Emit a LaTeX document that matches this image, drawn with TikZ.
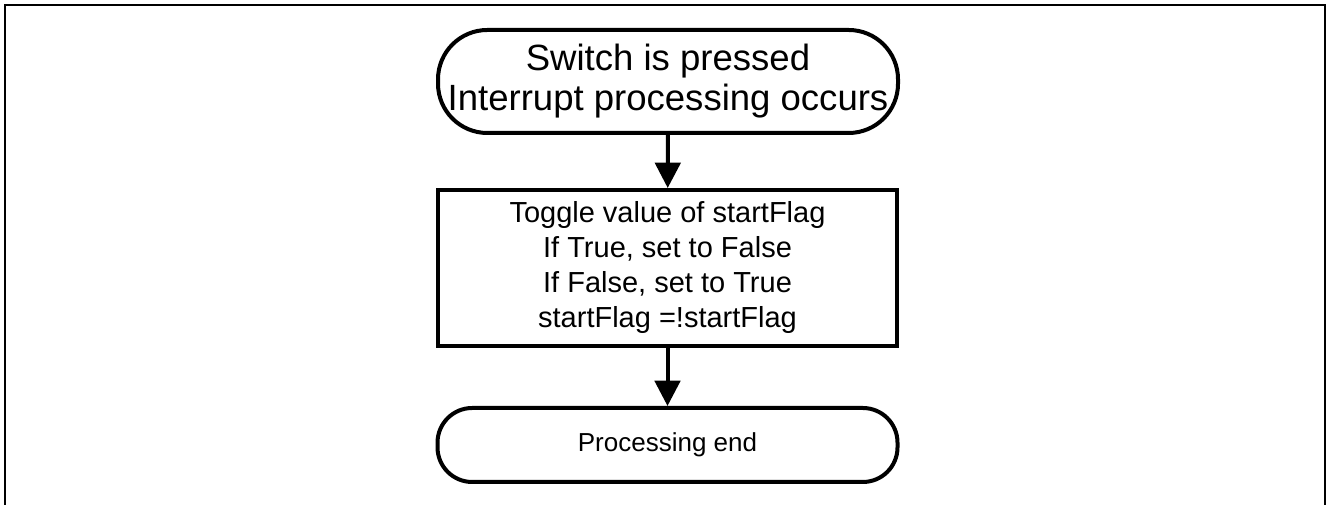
\documentclass[tikz,border=0pt]{standalone}
\usepackage{fontspec}
\setmainfont{Liberation Sans}
\usetikzlibrary{arrows.meta, positioning}

\begin{document}
\begin{tikzpicture}[x=0.75pt, y=0.75pt, line width=3pt]

    % Define styles
    \tikzstyle{terminal} = [draw, rectangle, minimum width=345pt, inner xsep=2pt, align=center]
    \tikzstyle{process} = [draw, rectangle, minimum width=344.25pt, minimum height=117pt, align=center,
                           font=\fontsize{21.75}{26.25}\selectfont]
    \tikzstyle{flow} = [-{Triangle[width=19pt, length=19pt]}]

    \useasboundingbox (0, 0) rectangle (1326, 505);

    % Outer frame
    \draw[line width=1.5pt] (5, 0) -- (5, 500) -- (1325, 500) -- (1325, 0);

    % Define key points
    \coordinate (p_start) at (668, 423.5);
    \coordinate (p_toggle) at (667.5, 237);
    \coordinate (p_end) at (667.5, 60);

    % Draw nodes
    \node[terminal, minimum height=77.25pt, rounded corners=37pt,
          font=\fontsize{27.4}{30}\selectfont] (start) at (p_start)
        {Switch is pressed\\Interrupt processing occurs};
    \node[process] (toggle) at (p_toggle)
        {Toggle value of startFlag\\If True, set to False\\If False, set to True\\startFlag =!startFlag};
    \node[terminal, minimum height=55.5pt, rounded corners=26pt,
          font=\fontsize{19.5}{23}\selectfont] (end) at (p_end) {Processing end};

    % Arrows
    \draw[flow] (start) -- (toggle);
    \draw[flow] (toggle) -- (end);

\end{tikzpicture}
\end{document}
